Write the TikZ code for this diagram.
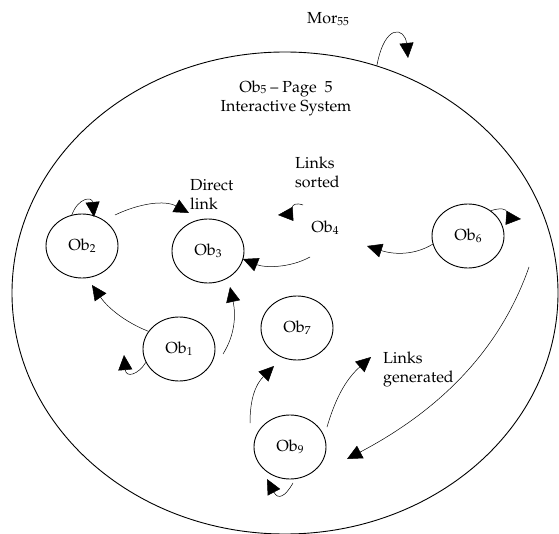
\documentclass[tikz,border=0pt]{standalone}
\usepackage[T1]{fontenc}
\usepackage{mathpazo}
\usetikzlibrary{shapes.geometric,arrows.meta}
\newcommand{\sbx}[1]{\raisebox{-0.1em}{\fontsize{11.5}{11.5}\selectfont #1}}
\tikzset{
  obj/.style={ellipse, draw, line width=0.9pt, minimum width=72pt, minimum height=64pt, inner sep=0pt},
  lbl/.style={inner sep=0pt, align=left, anchor=west},
  link/.style={line width=0.5pt, -{Triangle[length=15pt,width=14pt]}},
}
\begin{document}
\begin{tikzpicture}[x=1pt,y=-1pt,font=\fontsize{16}{19}\selectfont]
\useasboundingbox (0,0) rectangle (559,534);
% system
\node[ellipse, draw, line width=0.9pt, minimum width=546pt, minimum height=482pt, inner sep=0pt] (sys) at (285,293) {};
\node[inner sep=0pt] (mor) at (328,19) {Mor\sbx{55}};
\node[inner sep=0pt, align=center] (title) at (286,98) {Ob\sbx{5} -- Page\ \ 5\\Interactive System};
% objects
\node[obj] (ob2) at (82,246) {Ob\sbx{2}};
\node[obj] (ob3) at (208,251) {Ob\sbx{3}};
\node[obj] (ob1) at (179,349) {Ob\sbx{1}};
\node[obj] (ob7) at (297,328) {Ob\sbx{7}};
\node[obj] (ob9) at (290,447) {Ob\sbx{9}};
\node[obj] (ob6) at (468,236) {Ob\sbx{6}};
\node[inner sep=0pt] (ob4) at (325,228) {Ob\sbx{4}};
% labels
\node[lbl] (direct) at (190,194) {Direct\\link};
\node[lbl] (sorted) at (295,172) {Links\\sorted};
\node[lbl] (gen) at (383,369) {Links\\generated};
% free ends
\coordinate (t2) at (94,217);
\coordinate (s23) at (115,215);
\coordinate (t23) at (189,213);
\coordinate (s43) at (310,257);
\coordinate (t43) at (243,259);
\coordinate (s44) at (303,205);
\coordinate (t44) at (278,215);
\coordinate (t64) at (367,246);
\coordinate (t66) at (521,219);
\coordinate (t12) at (92,285);
\coordinate (t11) at (124,355);
\coordinate (s13) at (223,354);
\coordinate (t13) at (230,287);
\coordinate (s97) at (250,423);
\coordinate (t97) at (274,366);
\coordinate (s9g) at (327,427);
\coordinate (t9g) at (371,357);
\coordinate (s99) at (293,483);
\coordinate (t99) at (267,479);
\coordinate (sl) at (529,267);
\coordinate (tl) at (347,459);
\coordinate (tm) at (408,58);
% connectors
\draw[link] (ob2.108) .. controls (78,198) and (92,196) .. (t2);
\draw[link] (s23) .. controls (140,203) and (165,200) .. (t23);
\draw[link] (s43) .. controls (290,268) and (265,268) .. (t43);
\draw[link] (s44) .. controls (288,200) and (292,214) .. (t44);
\draw[link] (ob6.193) .. controls (415,255) and (395,255) .. (t64);
\draw[link] (ob6.48) .. controls (512,204) and (508,218) .. (t66);
\draw[link] (ob1.150) .. controls (125,322) and (108,308) .. (t12);
\draw[link] (ob1.202) .. controls (138,375) and (126,378) .. (t11);
\draw[link] (s13) .. controls (235,335) and (236,315) .. (t13);
\draw[link] (s97) .. controls (250,400) and (255,385) .. (t97);
\draw[link] (s9g) .. controls (335,400) and (345,380) .. (t9g);
\draw[link] (s99) .. controls (285,497) and (278,500) .. (t99);
\draw[link] (sl) .. controls (500,350) and (440,410) .. (tl);
\draw[link] (sys.68) .. controls (385,22) and (405,28) .. (tm);
\end{tikzpicture}
\end{document}
